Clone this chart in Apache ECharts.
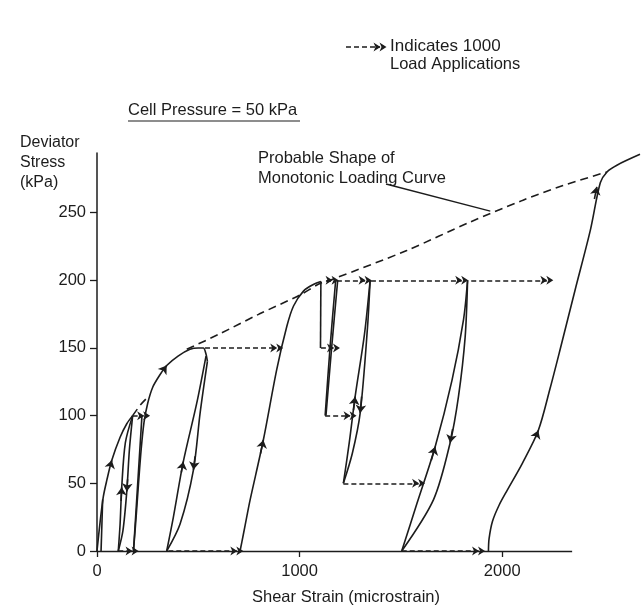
<!DOCTYPE html>
<html>
<head>
<meta charset="utf-8">
<script src="https://cdn.jsdelivr.net/npm/echarts@6/dist/echarts.min.js"></script>
<style>
  html, body { margin: 0; padding: 0; background: #fff; }
  #main { width: 641px; height: 608px; }
</style>
</head>
<body>
<div id="main"></div>
<script>
// shear strain (microstrain) vs deviator stress (kPa)
var xTicks = [0, 1000, 2000];
var yTicks = [0, 50, 100, 150, 200, 250];
var xAxisEnd = 2345;   // where the drawn strain axis stops

// solid loading / unloading paths
var firstLoad   = [[0,0],[15,21],[31,40],[48,52],[73,67],[114,84],[147,94],[176,100]];
var originSpike = [[28,38],[20,0]];
var loop1Down   = [[176,100],[160,75],[147,44],[128,15],[105,0]];
var loop1Up     = [[105,0],[114,20],[122,47],[140,80],[176,100]];
var afterLoop1  = [[222,100],[180,0]];
var secondLoad  = [[180,0],[193,25],[205,50],[218,75],[232,95],[250,109],[275,121],[310,130],[344,137],[400,144],[459,149],[500,150],[525,150],[537,146],[545,140]];
var loop2Down   = [[545,140],[509,102],[476,60],[410,20],[344,0]];
var loop2Up     = [[344,0],[377,25],[426,66],[492,109],[538,144]];
var thirdLoad   = [[706,0],[722,12],[740,26],[756,38],[821,82],[887,134],[937,166],[970,181],[1019,192],[1070,197],[1105,199]];
var stepDown    = [[1105,199],[1103,150]];
var stepLineA   = [[1178,200],[1150,150],[1126,100]];
var stepLineB   = [[1188,200],[1158,150],[1130,100]];
var loop3Up     = [[1216,50],[1245,80],[1274,114],[1320,160],[1348,200]];
var loop3Down   = [[1348,200],[1335,165],[1299,102],[1260,72],[1216,50]];
var loop4Up     = [[1504,0],[1579,35],[1669,77],[1752,126],[1809,171],[1829,200]];
var loop4Down   = [[1829,200],[1817,158],[1784,114],[1743,80],[1661,38],[1504,0]];
var fifthLoad   = [[1932,0],[1935,9],[1952,22],[1985,34],[2025,45],[2100,65],[2178,89],[2236,120],[2286,149],[2360,193],[2435,237],[2484,272],[2517,280],[2566,285],[2680,293]];

// probable monotonic curve (dashed)
var monoA = [[176,100],[215,108],[253,114]];
var monoB = [[443,149],[600,160],[800,175],[1000,189],[1105,198],[1167,201],[1529,222],[1842,243],[2100,259],[2300,270],[2517,280]];

// "1000 load applications" arrows: [fromStrain, toStrain, stress]
var cycleArrows = [
  [105,173,0],[352,690,0],[1504,1883,0],
  [1216,1587,50],
  [176,230,100],[1126,1249,100],
  [533,887,150],[1105,1167,150],
  [1130,1160,200],[1184,1323,200],[1352,1800,200],[1847,2220,200]
];

// direction heads on the solid paths: [x1,y1,x2,y2], head at x2,y2
var pathHeads = [
  [66,63,73,67],[119,37,122,47],[151,53,147,44],
  [330,134,344,137],[416,58,426,66],[484,70,476,60],
  [807,72,821,82],[1266,104,1274,114],[1306,114,1299,102],
  [1650,67,1669,77],[1755,90,1743,80],
  [2165,84,2178,89],[2455,260,2467,269]
];

var INK = '#1c1c1c';
var FONT = 'Liberation Sans';
var DOUBLE_HEAD = 'path://M0,0L5,7L0,5L-5,7Z M0,6L5,13L0,11L-5,13Z';

var chart = echarts.init(document.getElementById('main'));

function solid(d) {
  return {
    type: 'line', data: d, symbol: 'none', smooth: 0.3, clip: false,
    silent: true, animation: false,
    lineStyle: { color: INK, width: 1.6 }
  };
}

var series = [
  firstLoad, originSpike, loop1Down, loop1Up, afterLoop1, secondLoad,
  loop2Down, loop2Up, thirdLoad, stepDown, stepLineA, stepLineB,
  loop3Up, loop3Down, loop4Up, loop4Down, fifthLoad
].map(solid);

series.push({
  type: 'line', data: monoA, symbol: 'none', smooth: 0.3, clip: false,
  silent: true, animation: false,
  lineStyle: { color: INK, width: 1.6, type: [8, 5] }
});
series.push({
  type: 'line', data: monoB, symbol: 'none', smooth: 0.3, clip: false,
  silent: true, animation: false,
  lineStyle: { color: INK, width: 1.6, type: [8, 5] },
  markLine: {
    silent: true, animation: false,
    symbol: ['none', 'none'],
    label: { show: false },
    lineStyle: { color: INK, width: 1.3, type: 'solid' },
    data: [
      [{ x: 386, y: 184 }, { coord: [1941, 251] }],
      [{ coord: [0, 0] }, { coord: [xAxisEnd, 0] }]
    ]
  }
});

// dashed cycle arrows, plus the little key arrow at the top
var arrowData = cycleArrows.map(function (a) {
  return [{ coord: [a[0], a[2]] }, { coord: [a[1], a[2]] }];
});
arrowData.push([{ x: 346, y: 47 }, { x: 380, y: 47 }]);
series.push({
  type: 'line', data: [], clip: false, silent: true, animation: false,
  markLine: {
    silent: true, animation: false,
    symbol: ['none', DOUBLE_HEAD], symbolSize: [9, 13],
    label: { show: false },
    lineStyle: { color: INK, width: 1.6, type: [5, 3] },
    data: arrowData
  }
});

series.push({
  type: 'line', data: [], clip: false, silent: true, animation: false,
  markLine: {
    silent: true, animation: false,
    symbol: ['none', 'arrow'], symbolSize: 8,
    label: { show: false },
    lineStyle: { color: INK, width: 1.6, type: 'solid' },
    data: pathHeads.map(function (h) {
      return [{ coord: [h[0], h[1]] }, { coord: [h[2], h[3]] }];
    })
  }
});

function txt(s, x, y, align, size) {
  return {
    type: 'text', x: x, y: y, silent: true,
    style: { text: s, fill: INK, font: (size || 16.5) + 'px "' + FONT + '"', textAlign: align || 'left', textVerticalAlign: 'middle' }
  };
}

var option = {
  backgroundColor: '#fff',
  animation: false,
  grid: { left: 97, right: 1, top: 153, bottom: 57 },
  xAxis: {
    type: 'value', min: 0, max: 2680,
    axisLine: { show: false },
    axisTick: { show: true, length: 6, lineStyle: { color: INK, width: 1.3 }, customValues: xTicks },
    axisLabel: {
      color: INK, fontSize: 16.5, fontFamily: FONT, margin: 12, customValues: xTicks,
      formatter: function (v) { return String(v); }
    },
    splitLine: { show: false }
  },
  yAxis: {
    type: 'value', min: 0, max: 294,
    axisLine: { show: true, lineStyle: { color: INK, width: 1.5 } },
    axisTick: { show: true, length: 7, lineStyle: { color: INK, width: 1.3 }, customValues: yTicks },
    axisLabel: { color: INK, fontSize: 16.5, fontFamily: FONT, margin: 11, customValues: yTicks },
    splitLine: { show: false }
  },
  graphic: [
    txt('Indicates 1000', 390, 46, 'left', 17),
    txt('Load Applications', 390, 64),
    txt('Cell Pressure = 50 kPa', 128, 110),
    { type: 'line', silent: true, shape: { x1: 128, y1: 121, x2: 300, y2: 121 }, style: { stroke: INK, lineWidth: 1.2 } },
    txt('Deviator', 20, 143, 'left', 16),
    txt('Stress', 20, 163, 'left', 16),
    txt('(kPa)', 20, 183, 'left', 16),
    txt('Probable Shape of', 258, 158),
    txt('Monotonic Loading Curve', 258, 178),
    txt('Shear Strain (microstrain)', 346, 597, 'center')
  ],
  series: series
};

chart.setOption(option);
</script>
</body>
</html>
